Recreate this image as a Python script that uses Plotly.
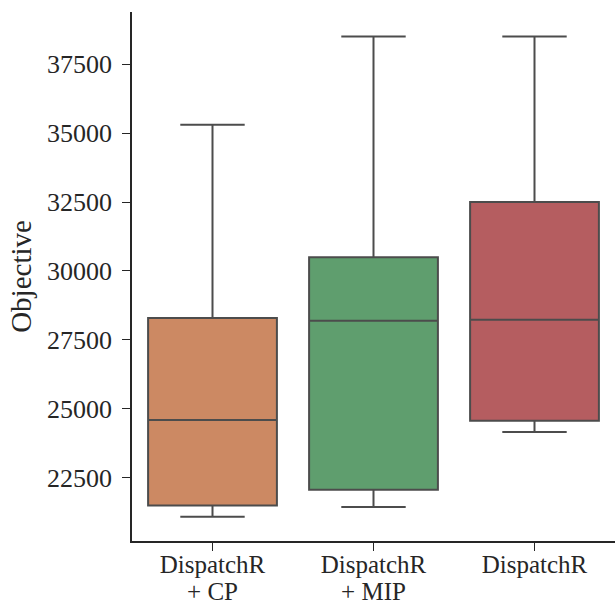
import plotly.graph_objects as go

categories = ["DispatchR + CP", "DispatchR + MIP", "DispatchR"]
tick_line1 = ["DispatchR", "DispatchR", "DispatchR"]
tick_line2 = ["+ CP", "+ MIP", ""]
lower_whisker = [21100, 21450, 24170]
q1_values = [21500, 22070, 24570]
median_values = [24600, 28200, 28230]
q3_values = [28300, 30500, 32500]
upper_whisker = [35300, 38500, 38500]
fill_colors = ["#cc8963", "#5f9e6e", "#b55d60"]
y_ticks = [22500, 25000, 27500, 30000, 32500, 35000, 37500]

fig = go.Figure()
for i, cat in enumerate(categories):
    fig.add_trace(go.Box(
        x=[cat],
        q1=[q1_values[i]],
        median=[median_values[i]],
        q3=[q3_values[i]],
        lowerfence=[lower_whisker[i]],
        upperfence=[upper_whisker[i]],
        fillcolor=fill_colors[i],
        line=dict(color="#4c4c4c", width=2),
        width=0.8,
        whiskerwidth=0.5,
        boxpoints=False,
        showlegend=False,
        hoverinfo="skip",
    ))
# invisible helper trace so the second-line tick axis is drawn
fig.add_trace(go.Scatter(x=categories, y=[None] * 3, xaxis="x2", yaxis="y",
                         mode="markers", showlegend=False, hoverinfo="skip"))

tick_font = dict(family="Liberation Serif", size=26, color="#262626")
xtick_font = dict(family="Liberation Serif", size=25, color="#262626")
title_font = dict(family="Liberation Serif", size=29, color="#262626")
fig.update_layout(
    width=615, height=607,
    margin=dict(l=132, r=0, t=12, b=66, autoexpand=False),
    paper_bgcolor="white", plot_bgcolor="white",
    boxmode="overlay",
    font=tick_font,
    xaxis=dict(
        type="category", categoryorder="array", categoryarray=categories,
        range=[-0.5, 2.5],
        tickmode="array", tickvals=categories, ticktext=tick_line1,
        showline=True, linecolor="#262626", linewidth=1.5,
        ticks="outside", ticklen=8, tickwidth=1.25, tickcolor="#262626",
        showgrid=False, zeroline=False, tickfont=xtick_font,
        ticklabelstandoff=-8,
    ),
    xaxis2=dict(
        type="category", categoryorder="array", categoryarray=categories,
        overlaying="x", matches="x", anchor="y", side="bottom",
        range=[-0.5, 2.5],
        tickmode="array", tickvals=categories, ticktext=tick_line2,
        showline=False, ticks="", showgrid=False, zeroline=False,
        tickfont=xtick_font, ticklabelstandoff=33,
    ),
    yaxis=dict(
        range=[20217, 39384],
        tickvals=y_ticks, ticktext=[str(v) for v in y_ticks],
        showline=True, linecolor="#262626", linewidth=1.5,
        ticks="outside", ticklen=8, tickwidth=1.25, tickcolor="#262626",
        showgrid=False, zeroline=False, tickfont=tick_font,
        ticklabelstandoff=5,
        title=dict(text="Objective", font=title_font, standoff=7),
    ),
)
fig.write_html("out.html", config={"displayModeBar": False},
               post_script="document.body.style.margin='0px';")
